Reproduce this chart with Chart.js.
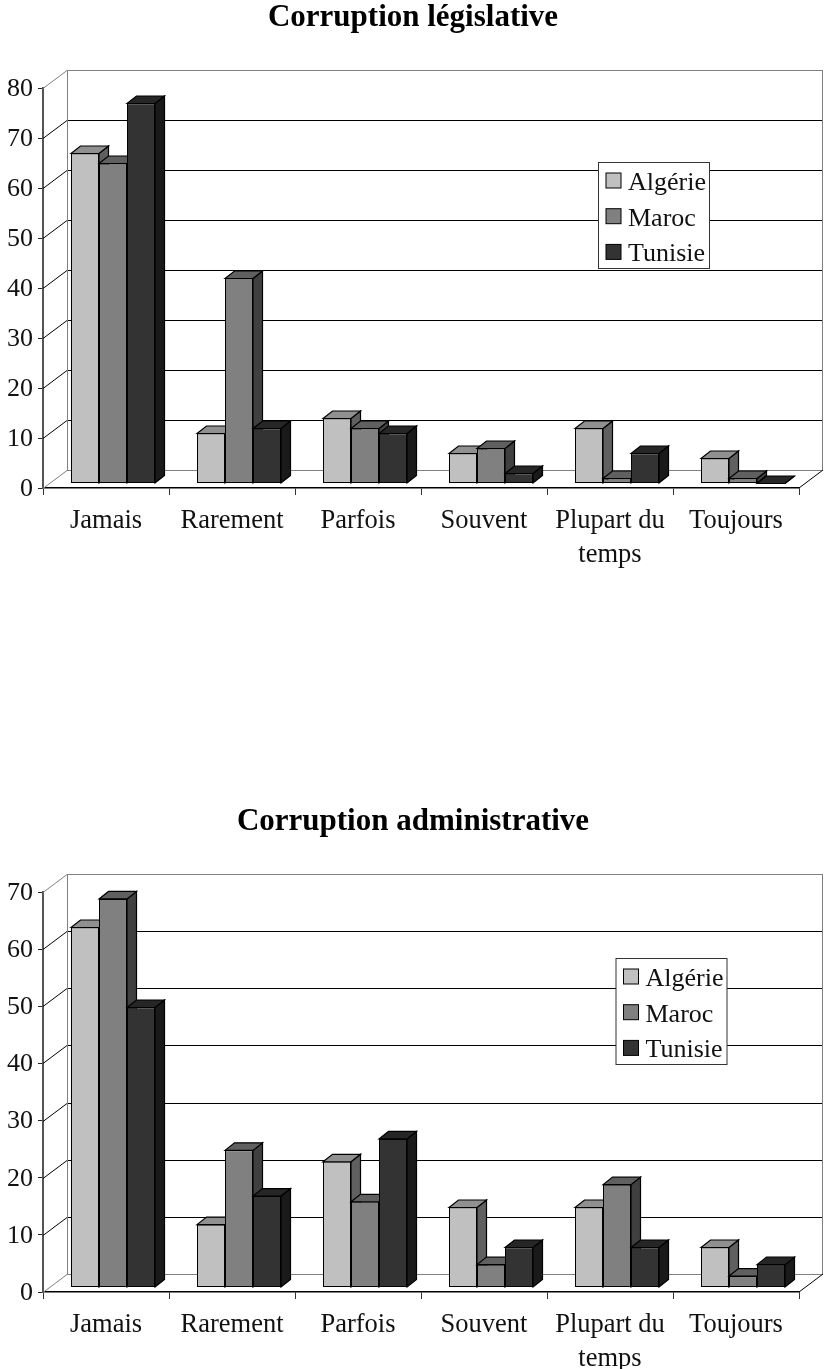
<!DOCTYPE html>
<html>
<head>
<meta charset="utf-8">
<title>Corruption</title>
<script src="https://cdn.jsdelivr.net/npm/chart.js@4"></script>
<style>
html, body { margin: 0; padding: 0; background: #fff; overflow: hidden; }
canvas { position: absolute; left: 0; display: block; }
#chart1 { top: 0; }
#chart2 { top: 804px; }
</style>
</head>
<body>
<canvas id="chart1" width="824" height="650"></canvas>
<canvas id="chart2" width="824" height="565"></canvas>
<script>
const categories = ["Jamais", "Rarement", "Parfois", "Souvent", ["Plupart du", "temps"], "Toujours"];
const seriesNames = ["Algérie", "Maroc", "Tunisie"];

const legislativeAlgerie = [66, 10, 13, 6, 11, 5];
const legislativeMaroc = [64, 41, 11, 7, 1, 1];
const legislativeTunisie = [76, 11, 10, 2, 6, 0];

const administrativeAlgerie = [63, 11, 22, 14, 14, 7];
const administrativeMaroc = [68, 24, 15, 4, 18, 2];
const administrativeTunisie = [49, 16, 26, 7, 7, 4];

const frontColors = ["#c0c0c0", "#808080", "#333333"];
const topColors = ["#909090", "#606060", "#262626"];
const sideColors = ["#606060", "#404040", "#1a1a1a"];

const serif = "'Liberation Serif', serif";
const textColor = "#111";

// 3d look: back wall is this far from the axes, bars sit a bit inside the floor
const wallX = 24, wallY = -18;
const barX = 7, barY = -4.5;
const sideX = 9.5, sideY = -7.5;

function face(ctx, pts, fill) {
    ctx.beginPath();
    ctx.moveTo(pts[0][0], pts[0][1]);
    for (let i = 1; i < pts.length; i++) ctx.lineTo(pts[i][0], pts[i][1]);
    ctx.closePath();
    ctx.fillStyle = fill;
    ctx.fill();
    ctx.lineWidth = 1.2;
    ctx.strokeStyle = "#000";
    ctx.stroke();
}

function line(ctx, x1, y1, x2, y2, color, width) {
    ctx.beginPath();
    ctx.moveTo(x1, y1);
    ctx.lineTo(x2, y2);
    ctx.strokeStyle = color;
    ctx.lineWidth = width || 1;
    ctx.stroke();
}

const box3d = {
    id: "box3d",
    afterLayout(chart) {
        // right padding pulls the title off centre, push it back
        chart.titleBlock.left += 13.5;
        chart.titleBlock.right += 13.5;
    },
    beforeDatasetsDraw(chart) {
        const ctx = chart.ctx;
        const area = chart.chartArea;
        const y = chart.scales.y;
        const left = area.left, right = area.right;
        ctx.save();
        y.ticks.forEach(t => {
            const py = Math.round(y.getPixelForValue(t.value)) + 0.5;
            const outer = t.value === y.min || t.value === y.max;
            const c = outer ? "#808080" : "#000";
            line(ctx, left, py, left + wallX, py + wallY, c);
            line(ctx, left + wallX, py + wallY, right + wallX, py + wallY, c);
        });
        const top = Math.round(y.getPixelForValue(y.max)) + wallY;
        const floor = Math.round(y.getPixelForValue(0)) + wallY;
        line(ctx, left + wallX + 0.5, top, left + wallX + 0.5, floor, "#808080");
        line(ctx, right + wallX - 0.5, top, right + wallX - 0.5, floor, "#808080");
        line(ctx, right, floor - wallY, right + wallX, floor, "#000");
        ctx.restore();
    },
    // bars are drawn in afterDatasetsDraw, category by category
    beforeDatasetDraw() {
        return false;
    },
    afterDatasetsDraw(chart) {
        const ctx = chart.ctx;
        ctx.save();
        ctx.translate(barX, barY);
        categories.forEach((c, j) => {
            chart.data.datasets.forEach((ds, i) => {
                const bar = chart.getDatasetMeta(i).data[j];
                const l = bar.x - bar.width / 2;
                const r = bar.x + bar.width / 2;
                face(ctx, [[r, bar.y], [r + sideX, bar.y + sideY], [r + sideX, bar.base + sideY], [r, bar.base]], sideColors[i]);
                face(ctx, [[l, bar.y], [l + sideX, bar.y + sideY], [r + sideX, bar.y + sideY], [r, bar.y]], topColors[i]);
                bar.draw(ctx);
            });
        });
        ctx.restore();
        drawLegend(chart);
    }
};

function drawLegend(chart) {
    const ctx = chart.ctx;
    const o = chart.options.plugins.box3d;
    ctx.save();
    ctx.fillStyle = "#fff";
    ctx.fillRect(o.x, o.y, o.w, o.h);
    ctx.strokeStyle = "#333";
    ctx.lineWidth = 1;
    ctx.strokeRect(o.x, o.y, o.w, o.h);
    ctx.font = "26px " + serif;
    ctx.textBaseline = "middle";
    chart.data.datasets.forEach((ds, i) => {
        const sy = o.y + 10.5 + i * 35.7;
        ctx.fillStyle = frontColors[i];
        ctx.fillRect(o.x + 7.5, sy, 15, 15);
        ctx.strokeStyle = "#000";
        ctx.strokeRect(o.x + 7.5, sy, 15, 15);
        ctx.fillStyle = textColor;
        ctx.fillText(ds.label, o.x + 29.5, sy + 10);
    });
    ctx.restore();
}

function makeChart(id, titleText, values, maxValue, legendPos) {
    const canvas = document.getElementById(id);
    return new Chart(canvas.getContext("2d"), {
        type: "bar",
        plugins: [box3d],
        data: {
            labels: categories,
            datasets: values.map((v, i) => ({
                label: seriesNames[i],
                data: v,
                backgroundColor: frontColors[i],
                borderColor: "#000",
                borderWidth: 1,
                borderSkipped: false
            }))
        },
        options: {
            responsive: false,
            animation: false,
            events: [],
            barPercentage: 1,
            categoryPercentage: 2 / 3,
            layout: { padding: { right: 25 } },
            plugins: {
                legend: { display: false },
                tooltip: { enabled: false },
                title: {
                    display: true,
                    text: titleText,
                    color: "#000",
                    font: { family: serif, size: 31, weight: "bold", lineHeight: "32px" },
                    padding: { top: 2, bottom: 54 }
                },
                box3d: legendPos
            },
            scales: {
                x: {
                    afterFit(s) { s.height = canvas.height - 488; },
                    grid: { drawOnChartArea: false, tickLength: 7, tickColor: "#333", offset: true },
                    border: { color: "#000", width: 1.5 },
                    ticks: {
                        color: textColor,
                        font: { family: serif, size: 26.5, lineHeight: "34px" },
                        padding: 9,
                        maxRotation: 0,
                        autoSkip: false
                    }
                },
                y: {
                    min: 0,
                    max: maxValue,
                    afterFit(s) { s.width = 43; },
                    grid: { drawOnChartArea: false, tickLength: 5, tickColor: "#222" },
                    border: { color: "#555", width: 2 },
                    ticks: {
                        stepSize: 10,
                        color: textColor,
                        font: { family: serif, size: 26 },
                        padding: 5,
                        labelOffset: 1
                    }
                }
            }
        }
    });
}

makeChart("chart1", "Corruption législative",
    [legislativeAlgerie, legislativeMaroc, legislativeTunisie], 80,
    { x: 598.5, y: 162.5, w: 111, h: 106 });
makeChart("chart2", "Corruption administrative",
    [administrativeAlgerie, administrativeMaroc, administrativeTunisie], 70,
    { x: 616, y: 154.5, w: 111, h: 106 });
</script>
</body>
</html>
